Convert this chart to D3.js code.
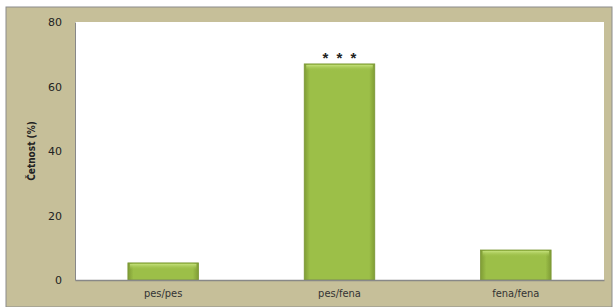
<!DOCTYPE html>
<html><head><meta charset="utf-8">
<script src="https://cdn.jsdelivr.net/npm/d3@7"></script>
<style>body{margin:0;background:#fff}svg{display:block}</style>
</head><body>
<script>
const categories = ["pes/pes", "pes/fena", "fena/fena"];
const values = [5.3, 67, 9.3];
const annotations = ["", "* * *", ""];
const yTicks = [0, 20, 40, 60, 80];

const W = 616, H = 307;
const svg = d3.select("body").append("svg").attr("width", W).attr("height", H);
const defs = svg.append("defs");
const g1 = defs.append("linearGradient").attr("id","barg").attr("x1",0).attr("x2",1).attr("y1",0).attr("y2",0);
g1.append("stop").attr("offset","0").attr("stop-color","#7f9c35");
g1.append("stop").attr("offset","0.08").attr("stop-color","#9cbf48");
g1.append("stop").attr("offset","0.92").attr("stop-color","#9cbf48");
g1.append("stop").attr("offset","1").attr("stop-color","#7f9c35");
const g2 = defs.append("linearGradient").attr("id","topg").attr("x1",0).attr("x2",0).attr("y1",0).attr("y2",1);
g2.append("stop").attr("offset","0").attr("stop-color","#c4e07a");
g2.append("stop").attr("offset","1").attr("stop-color","#9cbf48").attr("stop-opacity",0);

// outer background
svg.append("rect").attr("x",6).attr("y",7).attr("width",606).attr("height",300)
  .attr("fill","#c6bf99").attr("stroke","#8c8c8c").attr("stroke-width",1);

const m = {l:75, r:604, t:22, b:280};
const x = d3.scaleBand().domain(categories).range([m.l, m.r]).paddingInner(0.6).paddingOuter(0.3);
const y = d3.scaleLinear().domain([0,80]).range([m.b, m.t]);

svg.append("rect").attr("x",m.l).attr("y",m.t).attr("width",m.r-m.l).attr("height",m.b-m.t).attr("fill","#fff");

const bars = svg.append("g").selectAll("g").data(categories).join("g");
bars.append("rect")
  .attr("x", d=>x(d)).attr("y", (d,i)=>y(values[i]))
  .attr("width", x.bandwidth()).attr("height", (d,i)=>y(0)-y(values[i]))
  .attr("fill","url(#barg)");
bars.append("rect")
  .attr("x", d=>x(d)+2).attr("y", (d,i)=>y(values[i])+1)
  .attr("width", x.bandwidth()-4).attr("height", 6)
  .attr("fill","url(#topg)");
bars.append("rect")
  .attr("x", d=>x(d)).attr("y", (d,i)=>y(values[i]))
  .attr("width", x.bandwidth()).attr("height", (d,i)=>y(0)-y(values[i]))
  .attr("fill","none").attr("stroke","#7a9634").attr("stroke-width",0.8);

svg.append("g").selectAll("text").data(categories).join("text")
  .attr("x", d=>x(d)+x.bandwidth()/2+1).attr("y",(d,i)=>y(values[i])-1)
  .attr("text-anchor","middle").attr("font-family","Liberation Sans").attr("font-weight","bold")
  .attr("font-size",15).attr("letter-spacing",2).attr("fill","#222")
  .text((d,i)=>annotations[i]);

// axes
const yAxis = svg.append("g").attr("transform",`translate(${m.l},0)`)
  .call(d3.axisLeft(y).tickValues(yTicks).tickSize(0).tickPadding(13));
yAxis.select(".domain").attr("stroke","#888");
yAxis.selectAll("text").attr("font-family","Verdana, DejaVu Sans").attr("font-size",11).attr("fill","#222");

const xAxis = svg.append("g").attr("transform",`translate(0,${m.b})`)
  .call(d3.axisBottom(x).tickSize(0).tickPadding(9));
xAxis.select(".domain").attr("stroke","#888").attr("stroke-width",1.5);
xAxis.selectAll("text").attr("font-family","Liberation Sans Narrow, DejaVu Sans Condensed, sans-serif").attr("font-size",11).attr("fill","#333");

svg.append("text").attr("transform","translate(35,151) rotate(-90)")
  .attr("text-anchor","middle").attr("font-family","Liberation Sans Narrow, DejaVu Sans Condensed, sans-serif")
  .attr("font-size",10).attr("font-weight","bold").attr("fill","#222").text("Četnost (%)");
</script>
</body></html>
